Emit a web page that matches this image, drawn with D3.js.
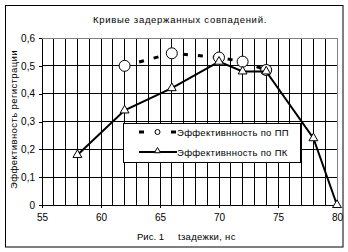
<!DOCTYPE html>
<html>
<head>
<meta charset="utf-8">
<script src="https://cdn.jsdelivr.net/npm/d3@7"></script>
<style>
  body { margin: 0; background: #fff; }
  svg { display: block; font-family: "Liberation Sans", Arial, sans-serif; }
</style>
</head>
<body>
<svg id="svg"></svg>
<script>
// data
const ppX = [62, 66, 70, 72, 74]
const ppY = [0.50, 0.545, 0.53, 0.515, 0.485]
const pkX = [58, 62, 66, 70, 72, 74, 78, 80]
const pkY = [0.18, 0.34, 0.42, 0.515, 0.48, 0.48, 0.24, 0.0]
const xTicks = [55, 60, 65, 70, 75, 80]
const yTicks = [0, 0.1, 0.2, 0.3, 0.4, 0.5, 0.6]
const title = 'Кривые задержанных совпадений.'
const ppName = 'Эффективнность по ПП'
const pkName = 'Эффективнность по ПК'

let width = 348, height = 252
let plot = {left: 42, right: 337, top: 38, bottom: 205}

let svg = d3.select('#svg').attr('width', width).attr('height', height)

// outer frame
svg.append('rect').attr('x', 5.5).attr('y', 5.5).attr('width', 337.5).attr('height', 241.5)
   .attr('fill', '#fff').attr('stroke', '#000')

let x = d3.scaleLinear().domain([55, 80]).range([plot.left, plot.right])
let y = d3.scaleLinear().domain([0, 0.6]).range([plot.bottom, plot.top])

// grid
let grid = svg.append('g').attr('shape-rendering', 'crispEdges')
grid.selectAll('.vg').data(d3.range(56, 80)).enter().append('line')
    .attr('x1', d => x(d)).attr('x2', d => x(d))
    .attr('y1', y(0)).attr('y2', y(0.6)).attr('stroke', '#000')
grid.selectAll('.hg').data(yTicks.slice(1, 6)).enter().append('line')
    .attr('x1', x(55)).attr('x2', x(80))
    .attr('y1', d => y(d)).attr('y2', d => y(d)).attr('stroke', '#000')
// plot border top/right gray
grid.append('path')
    .attr('d', `M${x(55)},${y(0.6)}H${x(80)}V${y(0)}`)
    .attr('fill', 'none').attr('stroke', '#808080')

// axes
let fmt = d => String(d).replace('.', ',')
let xAxis = d3.axisBottom(x).tickValues(xTicks).tickSize(3).tickPadding(6).tickSizeOuter(0)
let yAxis = d3.axisLeft(y).tickValues(yTicks).tickSize(3).tickPadding(4).tickSizeOuter(0).tickFormat(fmt)
let gx = svg.append('g').attr('transform', `translate(0,${y(0)})`).call(xAxis)
let gy = svg.append('g').attr('transform', `translate(${x(55)},0)`).call(yAxis)
;[gx, gy].forEach(g => {
  g.attr('shape-rendering', 'crispEdges')
  g.select('.domain').attr('stroke', '#000')
  g.selectAll('.tick line').attr('stroke', '#000')
  g.selectAll('text').attr('font-size', 10).attr('fill', '#000')
    .attr('font-family', '"Liberation Sans", Arial, sans-serif')
})

let ppData = ppX.map((d, i) => [d, ppY[i]])
let pkData = pkX.map((d, i) => [d, pkY[i]])
let line = d3.line().x(d => x(d[0])).y(d => y(d[1]))

// PP dashed series
svg.append('path').datum(ppData).attr('d', line)
   .attr('fill', 'none').attr('stroke', '#000').attr('stroke-width', 3)
   .attr('stroke-dasharray', '5,10')
svg.selectAll('.pp').data(ppData).enter().append('circle')
   .attr('cx', d => x(d[0])).attr('cy', d => y(d[1])).attr('r', 5.5)
   .attr('fill', '#fff').attr('stroke', '#000')

// PK solid series
svg.append('path').datum(pkData).attr('d', line)
   .attr('fill', 'none').attr('stroke', '#000').attr('stroke-width', 2)
let tri = d3.symbol().type(d3.symbolTriangle).size(34)
svg.selectAll('.pk').data(pkData).enter().append('path')
   .attr('d', tri)
   .attr('transform', d => `translate(${x(d[0])},${y(d[1])})`)
   .attr('fill', '#fff').attr('stroke', '#000')

// legend
let lg = svg.append('g')
lg.append('rect').attr('x', 123.5).attr('y', 123.5).attr('width', 177).attr('height', 39)
  .attr('fill', '#fff').attr('stroke', '#000')
lg.append('line').attr('x1', 139).attr('x2', 176).attr('y1', 132).attr('y2', 132)
  .attr('stroke', '#000').attr('stroke-width', 3).attr('stroke-dasharray', '5,27')
lg.append('circle').attr('cx', 157.5).attr('cy', 132).attr('r', 2.5)
  .attr('fill', '#fff').attr('stroke', '#000')
lg.append('line').attr('x1', 139).attr('x2', 177).attr('y1', 152).attr('y2', 152)
  .attr('stroke', '#000').attr('stroke-width', 2)
lg.append('path').attr('d', d3.symbol().type(d3.symbolTriangle).size(16))
  .attr('transform', 'translate(157.5,151)').attr('fill', '#fff').attr('stroke', '#000')
lg.append('text').attr('x', 177).attr('y', 135.5).attr('font-size', 9.5).attr('letter-spacing', 0.3).text(ppName)
lg.append('text').attr('x', 177).attr('y', 155.5).attr('font-size', 9.5).attr('letter-spacing', 0.3).text(pkName)

// titles
svg.append('text').attr('x', 180).attr('y', 23).attr('text-anchor', 'middle')
   .attr('font-size', 9.5).attr('letter-spacing', 0.7).text(title)
svg.append('text').attr('transform', `translate(17,${(plot.top + plot.bottom) / 2 - 2}) rotate(-90)`)
   .attr('text-anchor', 'middle').attr('font-size', 9.5).attr('letter-spacing', 0.4)
   .text('Эффективность регистрации')
svg.append('text').attr('x', 137).attr('y', 239.5).attr('font-size', 9.5).text('Рис. 1')
svg.append('text').attr('x', 178).attr('y', 239.5).attr('font-size', 9.5).attr('letter-spacing', 0.3).text('tзадежки, нс')
</script>
</body>
</html>
